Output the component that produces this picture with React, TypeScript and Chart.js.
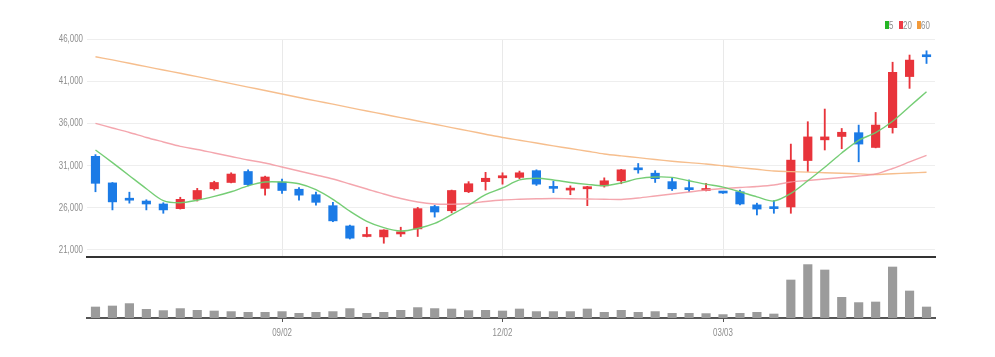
import React, { useEffect, useRef } from "react";
import { Chart, registerables } from "chart.js";

Chart.register(...registerables);

const DATES = [
  "06/17", "06/24", "07/01", "07/08", "07/15", "07/22", "07/29", "08/05", "08/12", "08/19",
  "08/26", "09/02", "09/09", "09/16", "09/23", "09/30", "10/07", "10/14", "10/21", "10/28",
  "11/04", "11/11", "11/18", "11/25", "12/02", "12/09", "12/16", "12/23", "12/30", "01/06",
  "01/13", "01/20", "01/27", "02/03", "02/10", "02/17", "02/24", "03/03", "03/10", "03/17",
  "03/24", "03/31", "04/07", "04/14", "04/21", "04/28", "05/05", "05/12", "05/19", "05/26",
];
const SHOWN_TICKS = ["09/02", "12/02", "03/03"];
const Y_TICKS = [21000, 26000, 31000, 36000, 41000, 46000];

const OPEN = [
  32100, 28950, 27000, 26800, 26450, 25900, 27000, 28250, 29000, 30300,
  28300, 29050, 28200, 27550, 26250, 23850, 22600, 22550, 22900, 23500,
  26150, 25650, 27900, 29100, 29550, 29600, 30400, 28450, 28100, 28250,
  28600, 29200, 30650, 30100, 29100, 28300, 28050, 27900, 27900, 26350,
  26100, 26100, 31600, 34050, 34450, 34900, 33150, 35500, 41550, 44000,
];
const HIGH = [
  32300, 29000, 27850, 26950, 26600, 27250, 28300, 29150, 30150, 30500,
  29750, 29400, 28400, 27850, 26650, 23950, 23700, 23400, 23700, 26050,
  26300, 28100, 29100, 30200, 30150, 30350, 30500, 29150, 28600, 28550,
  29550, 30550, 31250, 30400, 29550, 29300, 28900, 27950, 28100, 26550,
  26850, 33550, 36200, 37700, 35400, 35800, 37300, 43250, 44100, 44600,
];
const LOW = [
  27900, 25750, 26550, 25750, 25350, 25850, 26800, 28100, 28950, 28600,
  27500, 27700, 26900, 26300, 24350, 22300, 22550, 21800, 22600, 22600,
  24900, 25400, 27800, 28100, 28800, 29450, 28650, 27800, 27550, 26250,
  28450, 28850, 30100, 29000, 28050, 27900, 28000, 27700, 26350, 25150,
  25350, 25350, 30300, 32850, 33000, 31450, 33100, 34850, 40150, 43100,
];
const CLOSE = [
  28900, 26700, 26900, 26450, 25750, 27000, 28050, 29000, 30000, 28750,
  29650, 28050, 27500, 26650, 24450, 22400, 22800, 23370, 23150, 25900,
  25500, 28050, 28850, 29500, 29800, 30150, 28800, 28300, 28250, 28500,
  29200, 30500, 30500, 29450, 28250, 28150, 28250, 27750, 26450, 25850,
  25900, 31650, 34400, 34400, 34950, 33550, 35800, 42050, 43500, 43900,
];
const MA5 = [
  32850, 31350, 29800, 28260, 26850, 26600, 26900, 27350, 27900, 28600,
  29050, 29050, 28850, 28150, 27000, 25600, 24400, 23650, 23250, 23550,
  24150, 25200, 26300, 27550, 28350, 29300, 29500, 29300, 29000, 28780,
  28620, 28950, 29450, 29650, 29600, 29200, 28800, 28450, 27900, 27300,
  26800, 27700, 29200, 30800, 32500, 34000, 34900, 36250, 38000, 39750,
];
const MA20 = [
  36000, 35460, 34920, 34330, 33800, 33280, 32910, 32490, 32080, 31670,
  31310, 30840, 30360, 29890, 29410, 28820, 28230, 27640, 27100, 26690,
  26450, 26420, 26510, 26750, 26930, 27010, 27070, 27100, 27070, 27040,
  27010, 26980, 27160, 27400, 27640, 27870, 28110, 28290, 28410, 28520,
  28700, 29060, 29240, 29410, 29590, 29770, 30010, 30660, 31430, 32200,
];
const MA60 = [
  43900, 43520, 43120, 42720, 42330, 41940, 41540, 41120, 40720, 40300,
  39900, 39490, 39070, 38670, 38280, 37870, 37470, 37080, 36680, 36290,
  35900, 35500, 35110, 34720, 34330, 34000, 33670, 33340, 33020, 32700,
  32380, 32150, 31940, 31720, 31520, 31350, 31190, 30980, 30760, 30560,
  30360, 30290, 30230, 30160, 30090, 30020, 29950, 30040, 30120, 30210,
];
const VOLUME = [
  110, 120, 144, 87, 74, 94, 77, 70, 64, 57,
  57, 64, 47, 57, 64, 94, 47, 57, 77, 104,
  94, 90, 74, 77, 70, 90, 64, 64, 64, 90,
  57, 77, 57, 64, 47, 47, 44, 34, 47, 57,
  40, 380, 534, 480, 207, 154, 160, 510, 270, 110,
];

const UP = "#e8343b";
const DOWN = "#1b7be6";
const FONT = "'Liberation Sans', Arial, sans-serif";
const LABEL_COLOR = "#8e8e8e";
const AXIS_W = 79;
const NARROW = 0.72;

const LEGEND = [
  { label: "5", color: "#25b625", left: 885 },
  { label: "20", color: "#ee3b45", left: 899 },
  { label: "60", color: "#f29a3a", left: 917 },
];

function drawNarrow(ctx: CanvasRenderingContext2D, text: string, x: number, y: number, align: CanvasTextAlign, baseline: CanvasTextBaseline) {
  ctx.save();
  ctx.translate(x, y);
  ctx.scale(NARROW, 1);
  ctx.font = `11px ${FONT}`;
  ctx.fillStyle = LABEL_COLOR;
  ctx.textAlign = align;
  ctx.textBaseline = baseline;
  ctx.fillText(text, 0, 0);
  ctx.restore();
}

export default function App() {
  const priceRef = useRef<HTMLCanvasElement | null>(null);
  const volRef = useRef<HTMLCanvasElement | null>(null);

  useEffect(() => {
    const colors = OPEN.map((o, i) => (CLOSE[i] >= o ? UP : DOWN));
    const isShown = (i: number) => SHOWN_TICKS.includes(DATES[i]);

    const yLabels = {
      id: "yLabels",
      afterDraw(chart: any) {
        const ys = chart.scales.y;
        const ctx = chart.ctx;
        Y_TICKS.forEach((v) => {
          drawNarrow(ctx, v.toLocaleString("en-US"), chart.chartArea.left - 4, ys.getPixelForValue(v), "right", "middle");
        });
      },
    };

    const xLabels = {
      id: "xLabels",
      afterDraw(chart: any) {
        const xs = chart.scales.x;
        const ctx = chart.ctx;
        DATES.forEach((d, i) => {
          if (isShown(i)) drawNarrow(ctx, d, xs.getPixelForValue(i), chart.chartArea.bottom + 9, "center", "top");
        });
      },
    };

    const price = new Chart(priceRef.current as HTMLCanvasElement, {
      type: "bar",
      data: {
        labels: DATES,
        datasets: [
          {
            type: "line",
            label: "5",
            data: MA5,
            borderColor: "rgba(110,202,110,0.95)",
            borderWidth: 1.4,
            pointRadius: 0,
            tension: 0.3,
            order: 0,
          } as any,
          {
            type: "line",
            label: "20",
            data: MA20,
            borderColor: "rgba(242,150,160,0.85)",
            borderWidth: 1.4,
            pointRadius: 0,
            tension: 0.3,
            order: 0,
          } as any,
          {
            type: "line",
            label: "60",
            data: MA60,
            borderColor: "rgba(246,186,135,0.95)",
            borderWidth: 1.4,
            pointRadius: 0,
            tension: 0.3,
            order: 0,
          } as any,
          {
            type: "bar",
            label: "body",
            data: OPEN.map((o, i) => [o, CLOSE[i]]),
            backgroundColor: colors,
            barThickness: 8.5,
            minBarLength: 2,
            grouped: false,
            order: 1,
          } as any,
          {
            type: "bar",
            label: "wick",
            data: LOW.map((l, i) => [l, HIGH[i]]),
            backgroundColor: colors,
            barThickness: 1.2,
            grouped: false,
            order: 2,
          } as any,
        ],
      },
      options: {
        responsive: false,
        animation: false,
        layout: { padding: { left: 8, right: 60, top: 39, bottom: 3 } },
        plugins: { legend: { display: false }, tooltip: { enabled: false } },
        scales: {
          x: {
            offset: true,
            grid: {
              offset: false,
              drawTicks: false,
              color: (ctx: any) => (isShown(ctx.index) ? "#e9e9e9" : "rgba(0,0,0,0)"),
            },
            ticks: { display: false, autoSkip: false },
            border: { display: true, color: "#333", width: 2 },
          },
          y: {
            min: 20170,
            max: 46000,
            afterBuildTicks: (s: any) => {
              s.ticks = Y_TICKS.map((v) => ({ value: v }));
            },
            afterFit: (s: any) => {
              s.width = AXIS_W;
            },
            ticks: { display: false },
            grid: { color: "#eeeeee", drawTicks: false },
            border: { display: false },
          },
        },
      } as any,
      plugins: [yLabels],
    });

    const vol = new Chart(volRef.current as HTMLCanvasElement, {
      type: "bar",
      data: {
        labels: DATES,
        datasets: [
          {
            data: VOLUME,
            backgroundColor: "#9b9b9b",
            barThickness: 8.5,
          },
        ],
      },
      options: {
        responsive: false,
        animation: false,
        layout: { padding: { left: 8, right: 60, top: 4, bottom: 35 } },
        plugins: { legend: { display: false }, tooltip: { enabled: false } },
        scales: {
          x: {
            grid: {
              offset: false,
              drawOnChartArea: false,
              drawTicks: true,
              tickLength: 4,
              color: (ctx: any) => (isShown(ctx.index) ? "#555" : "rgba(0,0,0,0)"),
              tickColor: (ctx: any) => (isShown(ctx.index) ? "#555" : "rgba(0,0,0,0)"),
            },
            ticks: { display: false, autoSkip: false },
            border: { display: true, color: "#555", width: 2 },
          },
          y: {
            min: 0,
            max: 560,
            ticks: { display: false },
            grid: { display: false },
            border: { display: false },
            afterFit: (s: any) => {
              s.width = AXIS_W;
            },
          },
        },
      } as any,
      plugins: [xLabels],
    });

    return () => {
      price.destroy();
      vol.destroy();
    };
  }, []);

  return (
    <div
      style={{
        position: "fixed",
        left: 0,
        top: 0,
        width: 995,
        height: 357,
        background: "#fff",
        overflow: "hidden",
      }}
    >
      <canvas ref={priceRef} width={995} height={260} style={{ position: "absolute", left: 0, top: 0 }} />
      <canvas ref={volRef} width={995} height={99} style={{ position: "absolute", left: 0, top: 258 }} />
      {LEGEND.map((it) => (
        <React.Fragment key={it.label}>
          <span
            style={{ position: "absolute", left: it.left, top: 21, width: 4, height: 8, background: it.color }}
          />
          <span
            style={{
              position: "absolute",
              left: it.left + 4,
              top: 18,
              fontFamily: FONT,
              fontSize: 11,
              lineHeight: "14px",
              color: LABEL_COLOR,
              transform: `scaleX(${NARROW})`,
              transformOrigin: "left center",
              whiteSpace: "nowrap",
            }}
          >
            {it.label}
          </span>
        </React.Fragment>
      ))}
    </div>
  );
}
